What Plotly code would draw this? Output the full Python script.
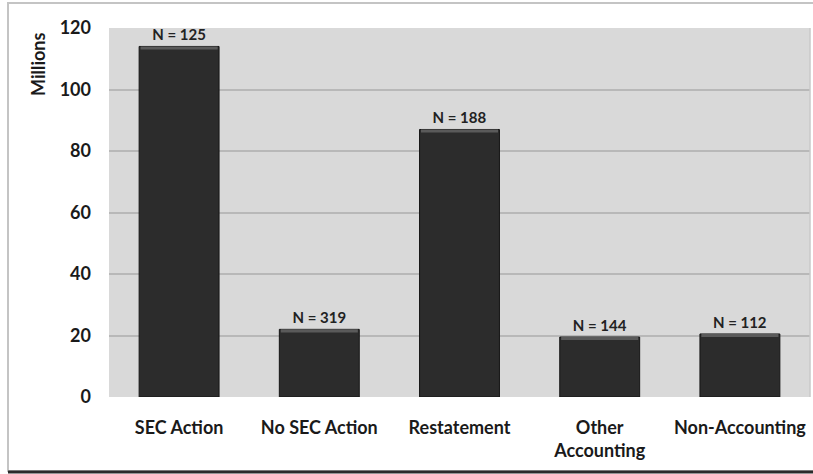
import plotly.graph_objects as go

# Category data
categories = ["SEC Action", "No SEC Action", "Restatement", "Other<br>Accounting", "Non-Accounting"]
values_millions = [114, 22, 87, 19.5, 20.5]
n_labels = ["N = 125", "N = 319", "N = 188", "N = 144", "N = 112"]
y_ticks = [0, 20, 40, 60, 80, 100, 120]

FONT = "Lato"
W, H = 813, 474
L, R, T, B = 109, 3, 28, 77
pw, ph = W - L - R, H - T - B


def px_x(px):
    return (px - L) / pw


def px_y(py):
    return (H - B - py) / ph


fig = go.Figure()

# Main bars
fig.add_trace(go.Bar(
    x=categories, y=values_millions,
    marker=dict(color="#2c2c2c", line=dict(color="#151515", width=1)),
    text=n_labels, textposition="outside",
    outsidetextfont=dict(family=FONT, size=15, color="#222222", weight="bold"),
    cliponaxis=False, width=0.57, hoverinfo="skip",
))

# Bevelled top edge of each bar
bevel = 1.0
fig.add_trace(go.Bar(
    x=categories, y=[bevel] * len(values_millions),
    base=[v - bevel for v in values_millions],
    marker=dict(color="#5a5a5a", line=dict(width=0)),
    width=0.55, hoverinfo="skip",
))

fig.update_layout(
    width=W, height=H,
    margin=dict(l=L, r=R, t=T, b=B),
    paper_bgcolor="white",
    plot_bgcolor="#d9d9d9",
    barmode="overlay",
    showlegend=False,
    font=dict(family=FONT, color="#1a1a1a"),
    xaxis=dict(
        showgrid=False, showline=False, zeroline=False, ticks="",
        tickfont=dict(family=FONT, size=18, color="#1a1a1a", weight="bold"),
        ticklabelstandoff=18,
    ),
    yaxis=dict(
        range=[0, 120], tickvals=y_ticks,
        showgrid=True, gridcolor="#b8b8b8", gridwidth=1.5,
        zeroline=False, showline=False, ticks="",
        tickfont=dict(family=FONT, size=18, color="#1a1a1a", weight="bold"),
        ticklabelstandoff=17,
    ),
    shapes=[
        # outer frame
        dict(type="rect", xref="paper", yref="paper",
             x0=px_x(8), x1=px_x(816), y0=px_y(471), y1=px_y(3),
             line=dict(color="#c4c4c4", width=2), layer="below"),
        dict(type="line", xref="paper", yref="paper",
             x0=px_x(8), x1=px_x(816), y0=px_y(472), y1=px_y(472),
             line=dict(color="#2a2a2a", width=3)),
        # right edge of plot area
        dict(type="line", xref="paper", yref="paper",
             x0=1, x1=1, y0=0, y1=1, line=dict(color="#c8c8c8", width=1.5)),
    ],
    annotations=[
        dict(text="Millions", xref="paper", yref="paper",
             x=px_x(38), y=px_y(65), textangle=-90, showarrow=False,
             font=dict(family=FONT, size=18, color="#1a1a1a", weight="bold"),
             xanchor="center", yanchor="middle"),
    ],
)

fig.write_html("out.html")
